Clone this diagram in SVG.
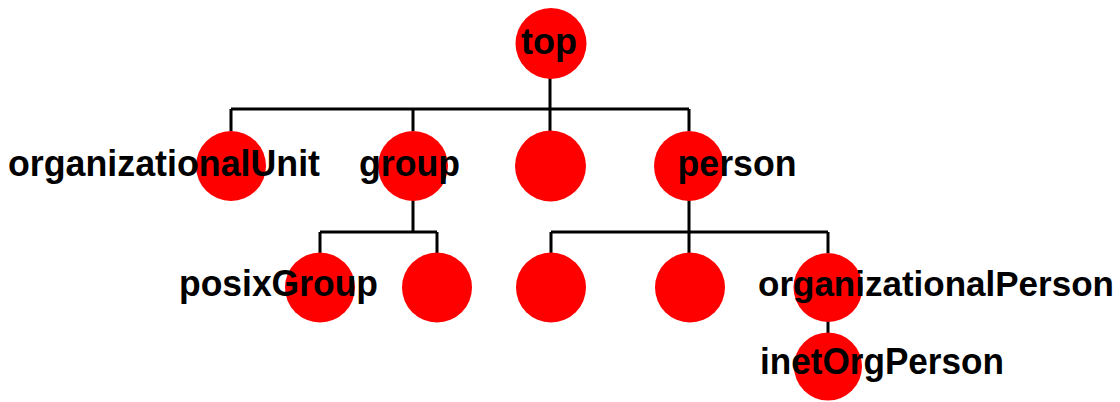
<svg xmlns="http://www.w3.org/2000/svg" width="1120" height="402" viewBox="0 0 1120 402">
<style>
.n{fill:#ff0000}
.t{font-family:"Liberation Sans",Arial,sans-serif;font-weight:bold;font-size:36px;fill:#000}
.c{stroke:#000;stroke-width:3;fill:none}
</style>
<rect width="1120" height="402" fill="#fff"/>
<g id="connectors" class="c">
<path d="M550 78V109M231 109H689M231 109V131M413 109V131M550 109V131M689 109V131"/>
<path d="M413 200V232M320 232H437M320 232V253M437 232V253"/>
<path d="M689 200V232M551 232H828M551 232V253M689 232V253M828 232V253"/>
<path d="M828 321V333"/>
</g>
<g id="top"><circle class="n" cx="551" cy="43.5" r="35.5"/><text class="t" x="521" y="53.5" textLength="56" lengthAdjust="spacingAndGlyphs">top</text></g>
<g id="organizationalUnit"><circle class="n" cx="231" cy="166" r="35"/><text class="t" x="8" y="175.5" textLength="312" lengthAdjust="spacingAndGlyphs">organizationalUnit</text></g>
<g id="group"><circle class="n" cx="413" cy="166" r="35"/><text class="t" x="359" y="175.5" textLength="101" lengthAdjust="spacingAndGlyphs">group</text></g>
<g id="blank1"><circle class="n" cx="550.5" cy="166" r="35.5"/></g>
<g id="person"><circle class="n" cx="689" cy="166" r="35"/><text class="t" x="677.5" y="175.5" textLength="119" lengthAdjust="spacingAndGlyphs">person</text></g>
<g id="posixGroup"><circle class="n" cx="320" cy="287.5" r="35"/><text class="t" x="179" y="295.5" textLength="199" lengthAdjust="spacingAndGlyphs">posixGroup</text></g>
<g id="blank2"><circle class="n" cx="437" cy="287.5" r="35"/></g>
<g id="blank3"><circle class="n" cx="551" cy="287.5" r="35"/></g>
<g id="blank4"><circle class="n" cx="690" cy="287.5" r="35"/></g>
<g id="organizationalPerson"><circle class="n" cx="828" cy="287.5" r="34.5"/><text class="t" x="758" y="295.5" style="font-size:35px">organizationalPerson</text></g>
<g id="inetOrgPerson"><circle class="n" cx="828" cy="366.5" r="34"/><text class="t" x="760" y="373.5" textLength="244" lengthAdjust="spacingAndGlyphs">inetOrgPerson</text></g>
</svg>
